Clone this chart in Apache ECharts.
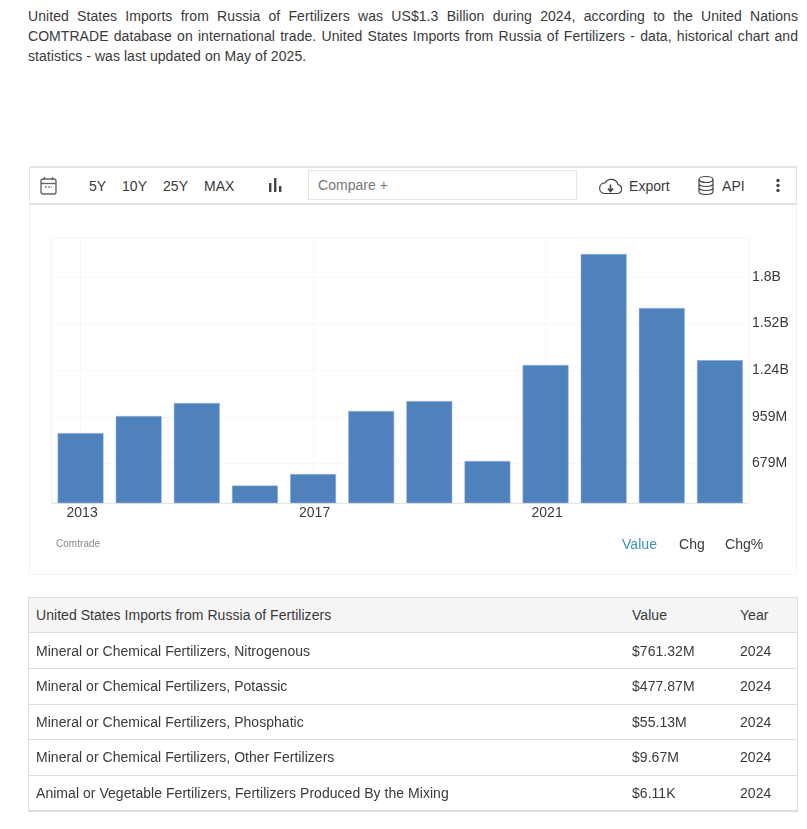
<!DOCTYPE html>
<html><head><meta charset="utf-8">
<script src="https://cdn.jsdelivr.net/npm/echarts@6/dist/echarts.min.js"></script>
<style>
html,body{margin:0;padding:0;background:#fff;overflow:hidden}
body{width:807px;height:829px;position:relative;font-family:"Liberation Sans",Arial,sans-serif;font-size:14px;color:#3a3a3a;letter-spacing:.04px}
.a{position:absolute;white-space:nowrap;line-height:16px}
#para{position:absolute;left:28px;top:6px;width:770px;font-size:14px;line-height:20.2px;text-align:justify;color:#3a3a3a;letter-spacing:.06px}
#box{position:absolute;left:29px;top:203px;width:766px;height:371px;border:1px solid #f2f2f2;border-top:none}
#bar{position:absolute;left:29px;top:166px;width:766px;height:35px;border:2px solid #e4e4e4;border-left-width:1px;border-right-width:1px}
#cmp{position:absolute;left:308px;top:170px;width:267px;height:28px;border:1px solid #e6e6e0}
#chart{position:absolute;left:0;top:0;width:807px;height:829px}
#tbl{position:absolute;left:28px;top:597px;width:770px;height:215px;border:1px solid #ddd;border-bottom:2px solid #ddd;box-sizing:border-box}
.r{position:absolute;left:0;right:0;border-bottom:1px solid #ddd;box-sizing:border-box}
</style></head><body>
<div id="para">United States Imports from Russia of Fertilizers was US$1.3 Billion during 2024, according to the United Nations COMTRADE database on international trade. United States Imports from Russia of Fertilizers - data, historical chart and statistics - was last updated on May of 2025.</div>
<div id="box"></div>
<div id="bar"></div>
<svg class="a" style="left:39px;top:176px" width="19" height="20" viewBox="0 0 19 20" fill="none" stroke="#666" stroke-width="1.4"><rect x="2" y="3" width="15" height="15" rx="2"/><line x1="2" y1="7.5" x2="17" y2="7.5"/><line x1="5.5" y1="1" x2="5.5" y2="4"/><line x1="13.5" y1="1" x2="13.5" y2="4"/><line x1="6" y1="11" x2="13" y2="11" stroke-width="1.6" stroke-dasharray="1.6 1.6"/></svg>
<div class="a" style="left:89px;top:178px">5Y</div>
<div class="a" style="left:122px;top:178px">10Y</div>
<div class="a" style="left:163px;top:178px">25Y</div>
<div class="a" style="left:204px;top:178px">MAX</div>
<svg class="a" style="left:267px;top:177px" width="16" height="16" fill="#444"><rect x="2" y="6" width="2.4" height="9"/><rect x="7" y="1" width="2.4" height="14"/><rect x="12" y="9" width="2.4" height="6"/></svg>
<div id="cmp"></div>
<div class="a" style="left:318px;top:177px;color:#777">Compare +</div>
<svg class="a" style="left:598px;top:176px" width="25" height="20" viewBox="0 0 25 20" fill="none" stroke="#444" stroke-width="1.2"><path d="M6 17.5h13a4.5 4.5 0 0 0 1-8.9A7 7 0 0 0 7.2 6.8 5.4 5.4 0 0 0 6 17.5z"/><path d="M12.5 8.5v6M10 12.5l2.5 3 2.5-3" stroke-width="1.6"/></svg>
<div class="a" style="left:629px;top:178px">Export</div>
<svg class="a" style="left:697px;top:175px" width="18" height="21" viewBox="0 0 18 21" fill="none" stroke="#444" stroke-width="1.2"><ellipse cx="9" cy="4.5" rx="7" ry="3"/><path d="M2 4.5v12c0 1.7 3.1 3 7 3s7-1.3 7-3v-12M2 8.5c0 1.7 3.1 3 7 3s7-1.3 7-3M2 12.5c0 1.7 3.1 3 7 3s7-1.3 7-3"/></svg>
<div class="a" style="left:722px;top:178px">API</div>
<svg class="a" style="left:774px;top:177px" width="8" height="17" fill="#444"><circle cx="4" cy="3.5" r="1.7"/><circle cx="4" cy="8.5" r="1.7"/><circle cx="4" cy="13.5" r="1.7"/></svg>
<div id="chart"></div>
<div class="a" style="left:56px;top:536px;font-size:10px;color:#888">Comtrade</div>
<div class="a" style="left:622px;top:536px;color:#3d8fc0">Value</div>
<div class="a" style="left:679px;top:536px">Chg</div>
<div class="a" style="left:725px;top:536px">Chg%</div>
<div id="tbl"></div>
<script>
const categories=["2013","2014","2015","2016","2017","2018","2019","2020","2021","2022","2023","2024"];
const importValues=[861e6,964e6,1042e6,545e6,615e6,994e6,1054e6,693e6,1271e6,1939e6,1614e6,1300e6];
const tickValues=[679e6,959e6,1240e6,1520e6,1800e6];
const tickLabels={679e6:"679M",959e6:"959M",1240e6:"1.24B",1520e6:"1.52B",1800e6:"1.8B"};
const tableHeader=["United States Imports from Russia of Fertilizers","Value","Year"];
const rowNames=["Mineral or Chemical Fertilizers, Nitrogenous","Mineral or Chemical Fertilizers, Potassic","Mineral or Chemical Fertilizers, Phosphatic","Mineral or Chemical Fertilizers, Other Fertilizers","Animal or Vegetable Fertilizers, Fertilizers Produced By the Mixing"];
const rowValues=["$761.32M","$477.87M","$55.13M","$9.67M","$6.11K"];
const rowYears=["2024","2024","2024","2024","2024"];

const tbl=document.getElementById('tbl');
const tops=[0,35,71,107,142,178];const bottoms=[35,71,107,142,178,213];
[tableHeader].concat(rowNames.map((n,i)=>[n,rowValues[i],rowYears[i]])).forEach((row,i)=>{
  const d=document.createElement('div');d.className='r';
  d.style.top=tops[i]+'px';d.style.height=(bottoms[i]-tops[i])+'px';
  if(i===0)d.style.background='#f5f5f5';
  if(i===5)d.style.borderBottom='none';
  [7,603,711].forEach((x,j)=>{const s=document.createElement('div');s.className='a';s.style.left=x+'px';s.style.top=(i===1?10:9)+'px';s.textContent=row[j];d.appendChild(s);});
  tbl.appendChild(d);
});
const grid='#f0f0f0';
echarts.init(document.getElementById('chart')).setOption({
  animation:false,
  grid:{left:51.5,right:58,top:238,height:265,show:true,borderColor:'#f3f3f3',borderWidth:1,backgroundColor:'transparent'},
  xAxis:{type:'category',data:categories,
    axisLine:{lineStyle:{color:'#e6e6e6',width:1}},
    axisTick:{show:false,alignWithLabel:true,interval:3},
    axisLabel:{interval:3,color:'#3a3a3a',fontSize:14,fontFamily:'Liberation Sans',margin:3,align:'center',padding:[0,0,0,3]},
    splitLine:{show:true,interval:3,alignWithLabel:true,lineStyle:{color:grid,type:'dotted'}}},
  yAxis:{type:'value',position:'right',min:440e6,max:2035e6,
    axisLine:{show:false},
    axisTick:{show:false,customValues:tickValues},
    axisLabel:{customValues:tickValues,formatter:v=>tickLabels[v],color:'#3a3a3a',fontSize:14,fontFamily:'Liberation Sans',margin:3,verticalAlign:'middle',padding:[0,0,5,0]},
    splitLine:{show:true,lineStyle:{color:grid,type:'dotted'}}},
  series:[{type:'bar',data:importValues,barWidth:46,itemStyle:{color:'#4f81bd',borderColor:'#a9c1e0',borderWidth:0.5}}]
});
</script>
</body></html>
